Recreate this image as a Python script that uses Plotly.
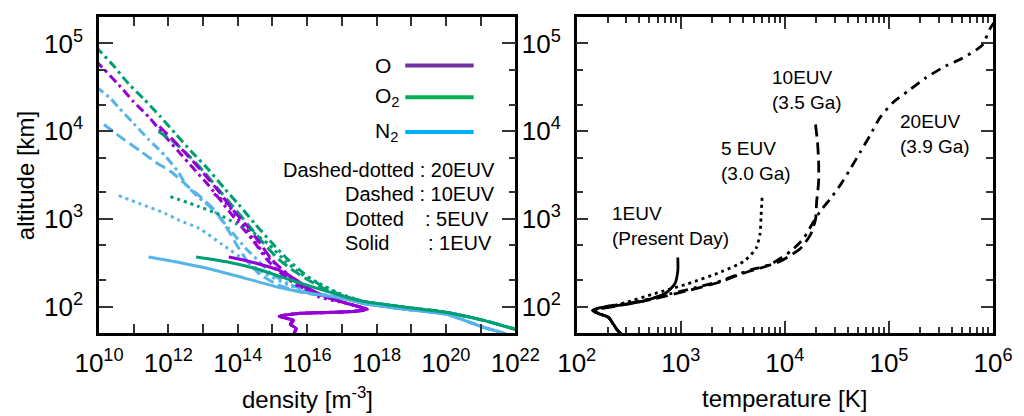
import plotly.graph_objects as go

# ---------------- data: left panel (density [m^-3] vs altitude [km]) ----------------
# shared lower-thermosphere profiles
O_low_n = [1.48e17, 5.53e17, 2.06e17, 3.98e16, 5.53e15, 1.58e15, 3.98e15, 3.27e15, 4.85e15, 4.25e15, 4.4e15]
O_low_z = [108, 92.7, 88.1, 85.7, 83.5, 77.3, 69.7, 62.8, 56.6, 49.8, 47]
O2_low_n = [4.54e17, 7.69e18, 1.07e20, 1.22e21, 1.0e22, 2.06e22]
O2_low_z = [114, 97.7, 85.7, 69.7, 55.2, 51]
N2_low_n = [1.22e17, 4.54e17, 7.69e18, 1.07e20, 1.22e21, 4.54e21, 6.0e21]
N2_low_z = [123, 108, 92.7, 81.5, 58, 49.8, 47]

# 1EUV (solid)
O_1_n = [5.53e13, 1.69e14, 4.85e14, 1.48e15, 4.54e15, 1.30e16, 3.98e16]
O_1_z = [367, 335, 300, 262, 205, 155, 127]
O2_1_n = [6.31e12, 5.53e13, 3.98e14, 2.87e15, 2.06e16, 1.48e17]
O2_1_z = [367, 320, 265, 205, 160, 127]
N2_1_n = [2.68e11, 2.06e12, 1.81e13, 1.69e14, 1.48e15, 1.30e16]
N2_1_z = [367, 318, 265, 210, 166, 141]

# 5EUV (dotted)
O_5_n = [2.06e13, 5.18e13, 1.0e14, 1.69e14, 3.06e14, 5.91e14, 1.14e15, 2.51e15, 5.53e15, 2.06e16, 7.69e16]
O_5_z = [1932, 1452, 1011, 780, 556, 397, 314, 242, 182, 130, 114]
O2_5_n = [1.14e12, 7.69e12, 2.87e13, 8.77e13, 2.51e14, 7.69e14, 2.35e15, 6.74e15, 2.06e16, 7.69e16]
O2_5_z = [1790, 1380, 1122, 888, 721, 514, 331, 236, 187, 144]
N2_5_n = [3.73e10, 1.48e11, 8.2e11, 2.06e12, 7.69e12, 3.49e13, 1.69e14, 6.31e14, 2.87e15, 1.48e16]
N2_5_z = [1837, 1493, 1151, 960, 780, 514, 331, 236, 177, 144]

# 10EUV (dashed)
O_10_n = [5.53e11, 1.58e12, 3.98e12, 1.07e13, 2.87e13, 6.74e13, 1.69e14, 3.98e14, 9.36e14, 2.06e15, 5.53e15, 2.06e16, 7.69e16]
O_10_z = [11300, 7460, 5050, 3250, 2040, 1310, 865, 556, 348, 255, 187, 137, 117]
O2_10_n = [5.18e11, 1.48e12, 3.98e12, 1.07e13, 2.87e13, 7.69e13, 2.06e14, 5.53e14, 1.48e15, 4.54e15, 1.48e16, 5.53e16, 2.06e17]
O2_10_z = [9930, 7460, 5190, 3420, 2140, 1345, 843, 528, 348, 249, 187, 144, 123]
N2_10_n = [1.39e10, 5.18e10, 1.58e11, 4.25e11, 1.22e12, 3.49e12, 7.69e12, 2.35e13, 5.53e13, 1.07e14, 2.06e14, 4.54e14, 1.48e15, 5.53e15, 3.98e16]
N2_10_z = [11920, 8050, 5900, 4440, 3420, 2380, 1837, 1211, 721, 463, 314, 230, 177, 148, 130]

# 20EUV (dash-dotted)
O_20_n = [8.2e9, 1.22e10, 3.73e10, 1.0e11, 2.68e11, 7.2e11, 1.93e12, 5.18e12, 1.48e13, 3.98e13, 1.07e14, 2.87e14, 6.74e14, 1.69e15, 4.85e15, 1.81e16, 7.69e16]
O_20_z = [63000, 53600, 33600, 21600, 14600, 9180, 5900, 3790, 2380, 1452, 888, 556, 348, 242, 177, 141, 117]
O2_20_n = [8.2e9, 1.22e10, 2.68e10, 7.2e10, 1.93e11, 5.91e11, 1.58e12, 4.54e12, 1.39e13, 3.98e13, 1.07e14, 3.06e14, 8.77e14, 2.51e15, 7.69e15, 2.35e16, 1.07e17]
O2_20_z = [91000, 77100, 55100, 34500, 23400, 14600, 9420, 5900, 3700, 2260, 1452, 888, 556, 358, 242, 177, 133]
N2_20_n = [8.2e9, 2.2e10, 3.73e10, 1.0e11, 2.68e11, 8.2e11, 1.93e12, 3.27e12, 7.69e12, 1.81e13, 5.53e13, 1.69e14, 3.98e14, 8.77e14, 2.87e15, 1.07e16, 5.53e16]
N2_20_z = [31900, 23400, 18500, 12200, 8050, 5190, 3420, 2440, 1742, 1310, 780, 463, 331, 242, 182, 152, 130]

# ---------------- data: right panel (temperature [K] vs altitude [km]) ----------------
T_low_T = [142, 162, 202, 225, 246, 274]
T_low_z = [90.4, 83.5, 75.4, 62.8, 53.8, 47.2]
T_1_T = [936, 936, 877, 705, 454, 251, 162]
T_1_z = [362, 255, 182, 141, 117, 103, 96.4]
T_5_T = [6040, 5900, 5780, 5300, 4070, 2450, 1166, 565, 293, 189]
T_5_z = [1742, 1064, 684, 463, 331, 249, 182, 141, 111, 97.7]
T_10_T = [19700, 20600, 21100, 21100, 20200, 19700, 17700, 14200, 9160, 6310, 4070, 2250, 1166, 565, 293, 189]
T_10_z = [11900, 7460, 4440, 2640, 1570, 984, 667, 463, 331, 283, 242, 187, 152, 123, 106, 96.4]
T_20_T = [1.04e6, 936000, 785000, 507000, 349000, 225000, 158000, 109000, 82100, 65900, 52900, 42500,
          34200, 27400, 22500, 18900, 15200, 11400, 7360, 4350, 2450, 1270, 659, 341, 189]
T_20_z = [177000, 147500, 94900, 67800, 55100, 40300, 29500, 21100, 14300, 8950, 5750, 3700,
          2440, 1698, 1276, 936, 601, 428, 306, 255, 197, 160, 133, 111, 100]

dens_ticks = [1e10, 1e11, 1e12, 1e13, 1e14, 1e15, 1e16, 1e17, 1e18, 1e19, 1e20, 1e21, 1e22]
dens_labels = ["10<sup>10</sup>", "", "10<sup>12</sup>", "", "10<sup>14</sup>", "", "10<sup>16</sup>", "",
               "10<sup>18</sup>", "", "10<sup>20</sup>", "", "10<sup>22</sup>"]
alt_ticks = [1e2, 1e3, 1e4, 1e5]
alt_labels = ["10<sup>2</sup>", "10<sup>3</sup>", "10<sup>4</sup>", "10<sup>5</sup>"]
alt_minor = [50, 200, 500, 2000, 5000, 20000, 50000, 200000]
temp_ticks = [1e2, 1e3, 1e4, 1e5, 1e6]
temp_labels = ["10<sup>2</sup>", "10<sup>3</sup>", "10<sup>4</sup>", "10<sup>5</sup>", "10<sup>6</sup>"]
temp_minor = [m * d for d in (1e2, 1e3, 1e4, 1e5) for m in range(2, 10)]

C_O, C_O2, C_N2 = "#9400D3", "#009E73", "#56B4E9"
L_O, L_O2, L_N2 = "#7030A0", "#00B050", "#00B0F0"
DASHDOT = "9px,4px,3px,4px"
DASH = "11px,5px"
DOT = "3px,4px"
FONT = "Liberation Sans, Arial, Helvetica, sans-serif"

fig = go.Figure()

def add(n, z, color, dash, width=2.5, xa="x", ya="y"):
    fig.add_trace(go.Scatter(x=n, y=z, mode="lines", xaxis=xa, yaxis=ya, showlegend=False,
                             line=dict(color=color, width=width, dash=dash, shape="spline", smoothing=0.6)))

# left panel
left_sets = [
    (N2_20_n, N2_20_z, N2_low_n, N2_low_z, C_N2, DASHDOT),
    (O2_20_n, O2_20_z, O2_low_n, O2_low_z, C_O2, DASHDOT),
    (O_20_n, O_20_z, O_low_n, O_low_z, C_O, DASHDOT),
    (N2_10_n, N2_10_z, N2_low_n, N2_low_z, C_N2, DASH),
    (O2_10_n, O2_10_z, O2_low_n, O2_low_z, C_O2, DASH),
    (O_10_n, O_10_z, O_low_n, O_low_z, C_O, DASH),
    (N2_5_n, N2_5_z, N2_low_n, N2_low_z, C_N2, DOT),
    (O2_5_n, O2_5_z, O2_low_n, O2_low_z, C_O2, DOT),
    (O_5_n, O_5_z, O_low_n, O_low_z, C_O, DOT),
    (O_1_n, O_1_z, O_low_n, O_low_z, C_O, "solid"),
    (N2_1_n, N2_1_z, N2_low_n, N2_low_z, C_N2, "solid"),
    (O2_1_n, O2_1_z, O2_low_n, O2_low_z, C_O2, "solid"),
]
for n, z, ln, lz, c, d in left_sets:
    add(n + ln, z + lz, c, d, width=3)

# right panel
add(T_20_T + T_low_T, T_20_z + T_low_z, "black", "10px,6px,3px,6px", 2.8, "x2", "y2")
add(T_10_T + T_low_T, T_10_z + T_low_z, "black", "12px,6px", 2.8, "x2", "y2")
add(T_5_T + T_low_T, T_5_z + T_low_z, "black", DOT, 2.8, "x2", "y2")
add(T_1_T + T_low_T, T_1_z + T_low_z, "black", "solid", 2.8, "x2", "y2")

# The page body has an 8px margin, so the figure is placed at (8, 8) in the window.
# Plot area in window pixels: x 99..1001, y 14..333
def px(x):
    return (x - 99) / 902.0

def py(y):
    return (333 - y) / 319.0

common_axis = dict(type="log", showline=True, linecolor="black", linewidth=2.5, mirror="allticks",
                   ticks="inside", tickcolor="#333", tickwidth=1.5, showgrid=False, zeroline=False,
                   tickfont=dict(family=FONT, size=26, color="black"), tickmode="array")

fig.update_layout(
    width=1016, height=408, margin=dict(l=91, r=23, t=6, b=83),
    paper_bgcolor="white", plot_bgcolor="white", showlegend=False,
    font=dict(family=FONT, color="black"),
    xaxis=dict(common_axis, domain=[0, 420 / 902], range=[10, 22], tickvals=dens_ticks, ticktext=dens_labels,
               ticklen=9, ticklabelstandoff=5, anchor="y"),
    yaxis=dict(common_axis, range=[1.699, 5.301], tickvals=alt_ticks, ticktext=alt_labels, ticklen=14,
               ticklabelstandoff=8, anchor="x",
               minor=dict(tickmode="array", tickvals=alt_minor, ticks="inside", ticklen=7, tickcolor="#333", tickwidth=1.5)),
    xaxis2=dict(common_axis, domain=[482 / 902, 1], range=[2, 6], tickvals=temp_ticks, ticktext=temp_labels,
                ticklen=12, ticklabelstandoff=5, anchor="y2",
                minor=dict(tickmode="array", tickvals=temp_minor, ticks="inside", ticklen=6, tickcolor="#333", tickwidth=1.5)),
    yaxis2=dict(common_axis, range=[1.699, 5.301], tickvals=alt_ticks, ticktext=alt_labels, ticklen=12,
                ticklabelstandoff=8, anchor="x2",
                minor=dict(tickmode="array", tickvals=alt_minor, ticks="inside", ticklen=7, tickcolor="#333", tickwidth=1.5)),
)

ann = []
# axis titles
ann.append(dict(x=px(25), y=py(174), text="altitude [km]", textangle=-90, font=dict(size=24)))
ann.append(dict(x=px(309), y=py(399), text="density [m<sup>-3</sup>]", font=dict(size=24)))
ann.append(dict(x=px(791), y=py(399), text="temperature [K]", font=dict(size=24)))
# species legend
for lbl, yy in (("O", 63), ("O<sub>2</sub>", 95), ("N<sub>2</sub>", 130)):
    ann.append(dict(x=px(375), y=py(yy), text=lbl, xanchor="left", font=dict(size=21)))
for col, yy in ((L_O, 63), (L_O2, 95), (L_N2, 130)):
    fig.add_shape(type="line", xref="paper", yref="paper", x0=px(408), x1=px(477), y0=py(yy), y1=py(yy),
                  line=dict(color=col, width=4))
# line-style key
ann.append(dict(x=px(501), y=py(168), text="Dashed-dotted : 20EUV", xanchor="right", font=dict(size=20)))
ann.append(dict(x=px(501), y=py(193), text="Dashed : 10EUV", xanchor="right", font=dict(size=20)))
ann.append(dict(x=px(345), y=py(218), text="Dotted", xanchor="left", font=dict(size=20)))
ann.append(dict(x=px(426), y=py(218), text=": 5EUV", xanchor="left", font=dict(size=20)))
ann.append(dict(x=px(345), y=py(242), text="Solid", xanchor="left", font=dict(size=20)))
ann.append(dict(x=px(429), y=py(242), text=": 1EUV", xanchor="left", font=dict(size=20)))
# right-panel labels
ann.append(dict(x=px(776), y=py(88), text="10EUV<br>(3.5 Ga)", xanchor="left", align="left", font=dict(size=19)))
ann.append(dict(x=px(725), y=py(159), text="5 EUV<br>(3.0 Ga)", xanchor="left", align="left", font=dict(size=19)))
ann.append(dict(x=px(905), y=py(132), text="20EUV<br>(3.9 Ga)", xanchor="left", align="left", font=dict(size=19)))
ann.append(dict(x=px(615), y=py(225), text="1EUV<br>(Present Day)", xanchor="left", align="left", font=dict(size=19)))

for a in ann:
    a.setdefault("xanchor", "center")
    a.update(xref="paper", yref="paper", yanchor="middle", showarrow=False)
    f = a.get("font", {})
    f.update(family=FONT, color="black")
    a["font"] = f
fig.update_layout(annotations=ann)

fig.write_html("out.html")
